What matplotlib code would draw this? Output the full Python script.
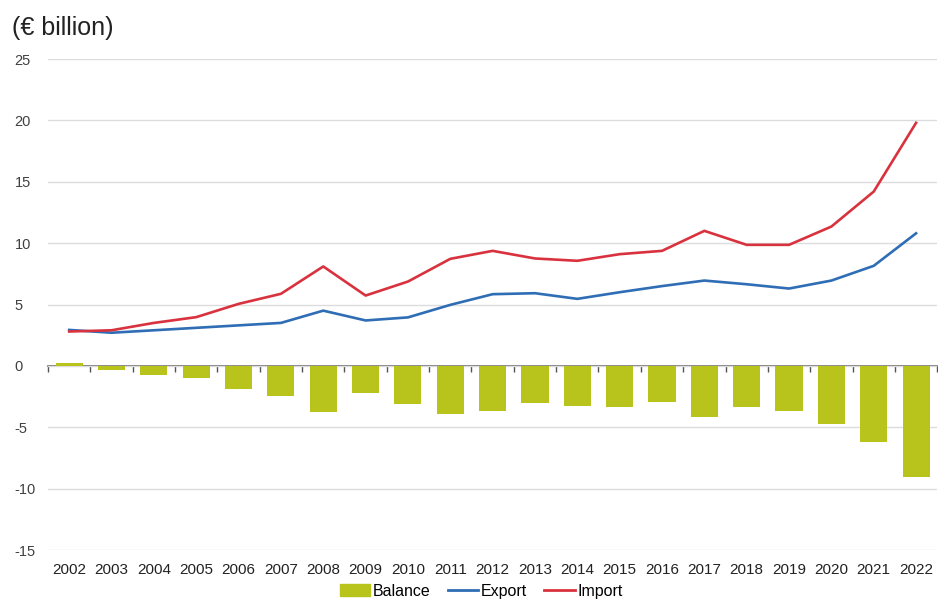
import numpy as np
import matplotlib.pyplot as plt
from matplotlib.patches import Patch
from matplotlib.lines import Line2D

years = [str(y) for y in range(2002, 2023)]
balance = [0.2, -0.33, -0.73, -1.0, -1.9, -2.42, -3.78, -2.17, -3.07, -3.91,
           -3.64, -3.0, -3.26, -3.34, -2.93, -4.2, -3.34, -3.64, -4.7, -6.17, -9.07]
export = [2.93, 2.7, 2.9, 3.1, 3.3, 3.5, 4.5, 3.7, 3.95, 4.97,
          5.84, 5.92, 5.46, 6.0, 6.5, 6.95, 6.65, 6.3, 6.95, 8.15, 10.8]
imports = [2.8, 2.9, 3.5, 3.97, 5.05, 5.87, 8.1, 5.73, 6.87, 8.72,
           9.37, 8.75, 8.56, 9.1, 9.37, 11.0, 9.86, 9.86, 11.35, 14.2, 19.8]
yticks = [-15, -10, -5, 0, 5, 10, 15, 20, 25]

C_BAL = '#b8c41c'
C_EXP = '#2f6db5'
C_IMP = '#d9323f'

plt.rcParams['font.family'] = ['Liberation Sans', 'DejaVu Sans']
plt.rcParams['axes.unicode_minus'] = False

fig = plt.figure(figsize=(9.38, 5.99), dpi=100)
ax = fig.add_axes([0.0512, 0.0818, 0.948, 0.8197])

x = np.arange(len(years))
ax.bar(x, balance, width=0.64, color=C_BAL, zorder=2)
ax.plot(x, export, color=C_EXP, lw=1.9, zorder=3)
ax.plot(x, imports, color=C_IMP, lw=1.9, zorder=3)

ax.set_xlim(-0.5, len(years) - 0.5)
ax.set_ylim(-15, 25)
ax.set_yticks(yticks)
ax.yaxis.grid(True, color='#dcdcdc', lw=1, zorder=0)
ax.set_axisbelow(True)
for s in ax.spines.values():
    s.set_visible(False)
ax.tick_params(axis='y', length=0, labelsize=10.5, labelcolor='#404040', pad=24)
for lab in ax.get_yticklabels():
    lab.set_horizontalalignment('left')
ax.set_xticks(x)
ax.set_xticklabels(years)
ax.tick_params(axis='x', length=0, labelsize=11, labelcolor='#222222', pad=9)

# zero axis with tick marks between categories
zero = ax.secondary_xaxis(15 / 40)
zero.spines['bottom'].set_color('#555555')
zero.spines['bottom'].set_linewidth(1.1)
zero.set_xticks(np.arange(len(years) + 1) - 0.5)
zero.set_xticklabels([])
zero.tick_params(axis='x', length=4, color='#555555', width=1)

fig.text(0.013, 0.953, '(€ billion)', fontsize=18, color='#222222', va='center')

handles = [Patch(color=C_BAL, label='Balance'),
           Line2D([], [], color=C_EXP, lw=2, label='Export'),
           Line2D([], [], color=C_IMP, lw=2, label='Import')]
fig.legend(handles=handles, loc='center', bbox_to_anchor=(0.513, 0.013), ncol=3,
           frameon=False, fontsize=11.5, handlelength=1.9, handleheight=0.8,
           handletextpad=0.15, columnspacing=1.1)

fig.savefig('out.png', dpi=100)
